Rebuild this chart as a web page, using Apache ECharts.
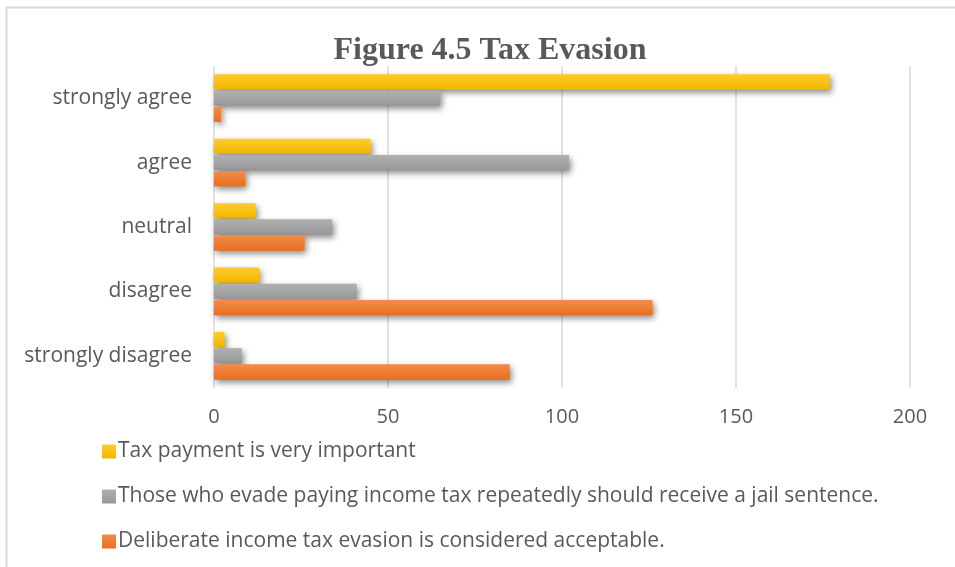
<!DOCTYPE html>
<html>
<head>
<meta charset="utf-8">
<script src="https://cdn.jsdelivr.net/npm/echarts@6/dist/echarts.min.js"></script>
<style>
  html, body { margin: 0; padding: 0; background: #fff; }
  #chart { width: 955px; height: 567px; }
</style>
</head>
<body>
<div id="chart"></div>
<script>
// categories bottom -> top (as on the y axis)
const categories = ['strongly disagree', 'disagree', 'neutral', 'agree', 'strongly agree']
const xTicks = [0, 50, 100, 150, 200]

// values, same order as categories
const taxImportant = [3, 13, 12, 45, 177]
const jailSentence = [8, 41, 34, 102, 65]
const evasionOk = [85, 126, 26, 9, 2]

const seriesNames = [
  'Tax payment is very important',
  'Those who evade paying income tax repeatedly should receive a jail sentence.',
  'Deliberate income tax evasion is considered acceptable.'
]

const textColor = '#595959'
const fontFamily = '"Open Sans", Lato, sans-serif'

const grad = (top, bottom) => new echarts.graphic.LinearGradient(0, 0, 0, 1, [
  { offset: 0, color: top }, { offset: 1, color: bottom }
])

const barStyle = (top, bottom) => ({
  color: grad(top, bottom),
  shadowColor: 'rgba(0,0,0,0.45)',
  shadowBlur: 6,
  shadowOffsetX: 2,
  shadowOffsetY: 3
})

const chart = echarts.init(document.getElementById('chart'))

const option = {
  backgroundColor: '#fff',
  animation: false,
  title: {
    text: 'Figure 4.5 Tax Evasion',
    left: 485,
    textAlign: 'center',
    top: 30,
    textStyle: { fontFamily: '"Liberation Serif", "Times New Roman", serif', fontSize: 32, fontWeight: 'bold', color: textColor }
  },
  legend: {
    orient: 'vertical',
    left: 97,
    top: 436,
    itemWidth: 14,
    itemHeight: 14,
    itemGap: 24,
    icon: 'rect',
    data: seriesNames,
    textStyle: { fontFamily, fontSize: 21, color: textColor, padding: [0, 0, 0, -3] }
  },
  grid: { left: 214, right: 45, top: 66, height: 322, containLabel: false },
  xAxis: {
    type: 'value',
    min: 0,
    max: 200,
    interval: 50,
    axisLine: { show: false },
    axisTick: { show: false },
    axisLabel: { color: textColor, fontFamily, fontSize: 20, margin: 19 },
    splitLine: { lineStyle: { color: '#d9d9d9', width: 1.5 } }
  },
  yAxis: {
    type: 'category',
    data: categories,
    axisLine: { show: false },
    axisTick: { show: false },
    axisLabel: { color: textColor, fontFamily, fontSize: 21, margin: 22 }
  },
  series: [
    {
      name: seriesNames[0],
      type: 'bar',
      data: taxImportant,
      barCategoryGap: '26%',
      barGap: '6%',
      itemStyle: barStyle('#ffca2c', '#f0b800')
    },
    {
      name: seriesNames[1],
      type: 'bar',
      data: jailSentence,
      barCategoryGap: '26%',
      barGap: '6%',
      itemStyle: barStyle('#b0b0b0', '#989898')
    },
    {
      name: seriesNames[2],
      type: 'bar',
      data: evasionOk,
      barCategoryGap: '26%',
      barGap: '6%',
      itemStyle: barStyle('#f38c4a', '#e86e1f')
    }
  ],
  graphic: [
    { type: 'line', shape: { x1: 6.5, y1: 7, x2: 6.5, y2: 567 }, style: { stroke: '#d9d9d9', lineWidth: 2 } },
    { type: 'line', shape: { x1: 6, y1: 7.5, x2: 955, y2: 7.5 }, style: { stroke: '#d9d9d9', lineWidth: 2 } }
  ]
}

chart.setOption(option)
</script>
</body>
</html>
